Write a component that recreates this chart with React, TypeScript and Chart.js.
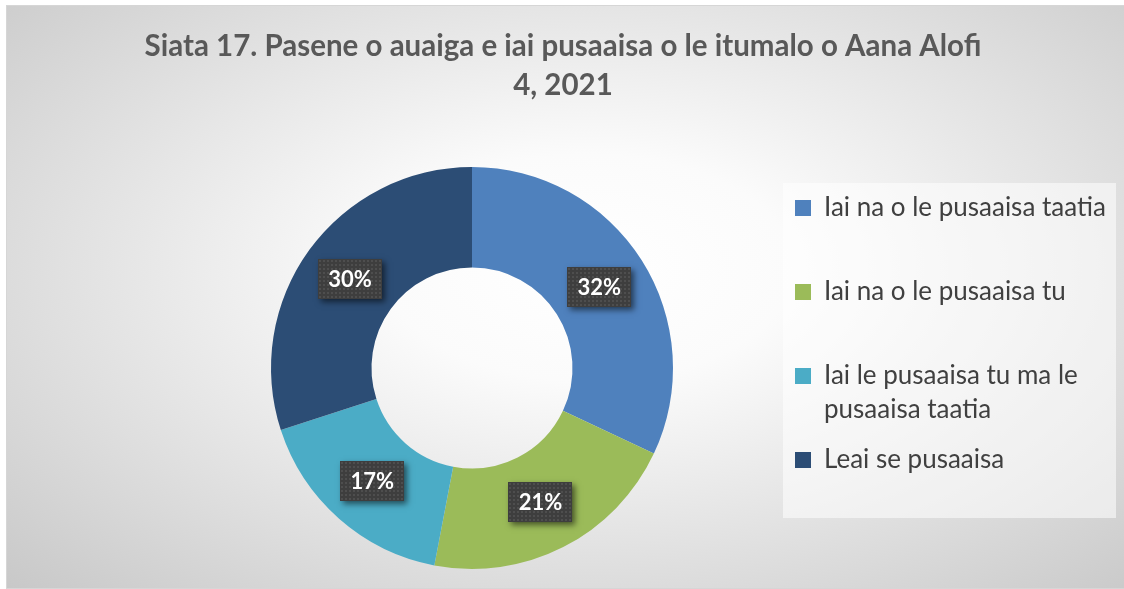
import React, { useEffect, useRef } from "react";
import { Chart, registerables, layouts } from "chart.js";

Chart.register(...registerables);

const titleLines = [
  "Siata 17. Pasene o auaiga e iai pusaaisa o le itumalo o Aana Alofi",
  "4, 2021",
];
const categories = [
  "Iai na o le pusaaisa taatia",
  "Iai na o le pusaaisa tu",
  "Iai le pusaaisa tu ma le pusaaisa taatia",
  "Leai se pusaaisa",
];
const legendLines = [
  ["Iai na o le pusaaisa taatia", ""],
  ["Iai na o le pusaaisa tu", ""],
  ["Iai le pusaaisa tu ma le", "pusaaisa taatia"],
  ["Leai se pusaaisa", ""],
];
const values = [32, 21, 17, 30];
const colors = ["#4F81BD", "#9BBB59", "#4BACC6", "#2C4D75"];

const W = 1117;
const H = 582;

function makePattern(ctx: CanvasRenderingContext2D) {
  const c = document.createElement("canvas");
  c.width = 4;
  c.height = 4;
  const g = c.getContext("2d")!;
  g.fillStyle = "#3e3e3e";
  g.fillRect(0, 0, 4, 4);
  g.fillStyle = "#4e4e4e";
  g.fillRect(1, 1, 2, 2);
  return ctx.createPattern(c, "repeat");
}

// empty box on the left so the doughnut sits left of the title centre
const leftSpacer = {
  id: "leftSpacer",
  beforeInit(chart: any) {
    const box: any = {
      position: "left",
      weight: 0,
      fullSize: false,
      options: {},
      left: 0,
      top: 0,
      right: 0,
      bottom: 0,
      width: 0,
      height: 0,
      isHorizontal() {
        return false;
      },
      update(_maxWidth: number, maxHeight: number) {
        this.width = 148;
        this.height = maxHeight;
      },
      draw() {},
    };
    layouts.addBox(chart, box);
  },
};

const legendBg = {
  id: "legendBg",
  beforeDraw(chart: any) {
    const lg = chart.legend;
    if (!lg) return;
    const ctx = chart.ctx;
    ctx.save();
    ctx.fillStyle = "rgba(255,255,255,0.55)";
    const x = lg.left + 4;
    const y = lg.top + 4;
    ctx.fillRect(x, y, chart.width - 8 - x, 335);
    ctx.restore();
  },
};

const pctLabels = {
  id: "pctLabels",
  afterDatasetsDraw(chart: any) {
    const ctx: CanvasRenderingContext2D = chart.ctx;
    const meta = chart.getDatasetMeta(0);
    const pattern = makePattern(ctx);
    meta.data.forEach((arc: any, i: number) => {
      const p = arc.tooltipPosition(false);
      const bw = 64;
      const bh = 40;
      const x = Math.round(p.x - bw / 2);
      const y = Math.round(p.y - bh / 2);
      ctx.save();
      ctx.shadowColor = "rgba(0,0,0,0.55)";
      ctx.shadowBlur = 6;
      ctx.shadowOffsetX = 3;
      ctx.shadowOffsetY = 3;
      ctx.fillStyle = "#3e3e3e";
      ctx.fillRect(x, y, bw, bh);
      ctx.restore();
      ctx.save();
      if (pattern) {
        ctx.translate(x, y);
        ctx.fillStyle = pattern;
        ctx.fillRect(0, 0, bw, bh);
      }
      ctx.restore();
      ctx.save();
      ctx.fillStyle = "#ffffff";
      ctx.font = "bold 22px Lato";
      ctx.textAlign = "center";
      ctx.textBaseline = "middle";
      ctx.fillText(values[i] + "%", p.x, p.y + 1);
      ctx.restore();
    });
  },
};

export default function App() {
  const ref = useRef<HTMLCanvasElement>(null);

  useEffect(() => {
    if (!ref.current) return;
    const chart = new Chart(ref.current, {
      type: "doughnut",
      data: {
        labels: categories,
        datasets: [
          {
            data: values,
            backgroundColor: colors,
            borderWidth: 0,
            clip: false,
          } as any,
        ],
      },
      options: {
        responsive: false,
        animation: false,
        radius: 201,
        cutout: "50%",
        layout: { padding: { left: 10, right: 15, top: 0, bottom: 31 } },
        plugins: {
          title: {
            display: true,
            text: titleLines,
            color: "#595959",
            font: { family: "Lato", size: 29.5, weight: "bold", lineHeight: 39 / 29.5 },
            padding: { top: 20.5, bottom: 74.5 },
          },
          legend: {
            display: true,
            position: "right",
            align: "start",
            fullSize: false,
            maxWidth: 330,
            labels: {
              boxWidth: 16,
              boxHeight: 16,
              padding: 16,
              color: "#404040",
              font: { family: "Lato", size: 26, lineHeight: 34 / 26 },
              generateLabels: () =>
                legendLines.map((t, i) => ({
                  text: t as any,
                  fillStyle: colors[i],
                  strokeStyle: colors[i],
                  lineWidth: 0,
                  hidden: false,
                  index: i,
                  fontColor: "#404040",
                })),
            },
          },
          tooltip: { enabled: false },
        },
      } as any,
      plugins: [leftSpacer, legendBg, pctLabels],
    });
    return () => chart.destroy();
  }, []);

  return (
    <div
      style={{
        position: "fixed",
        left: 6,
        top: 5,
        width: 1118,
        height: 584,
        boxSizing: "border-box",
        borderTop: "1px solid #d6d6d6",
        borderLeft: "1px solid #d6d6d6",
        borderBottom: "1px solid #d6d6d6",
        background:
          "radial-gradient(ellipse farthest-corner at 52% 45%, #ffffff 0%, #fbfbfb 25%, #c8c8c8 100%)",
        overflow: "hidden",
      }}
    >
      <canvas ref={ref} width={W} height={H} style={{ display: "block" }} />
    </div>
  );
}
